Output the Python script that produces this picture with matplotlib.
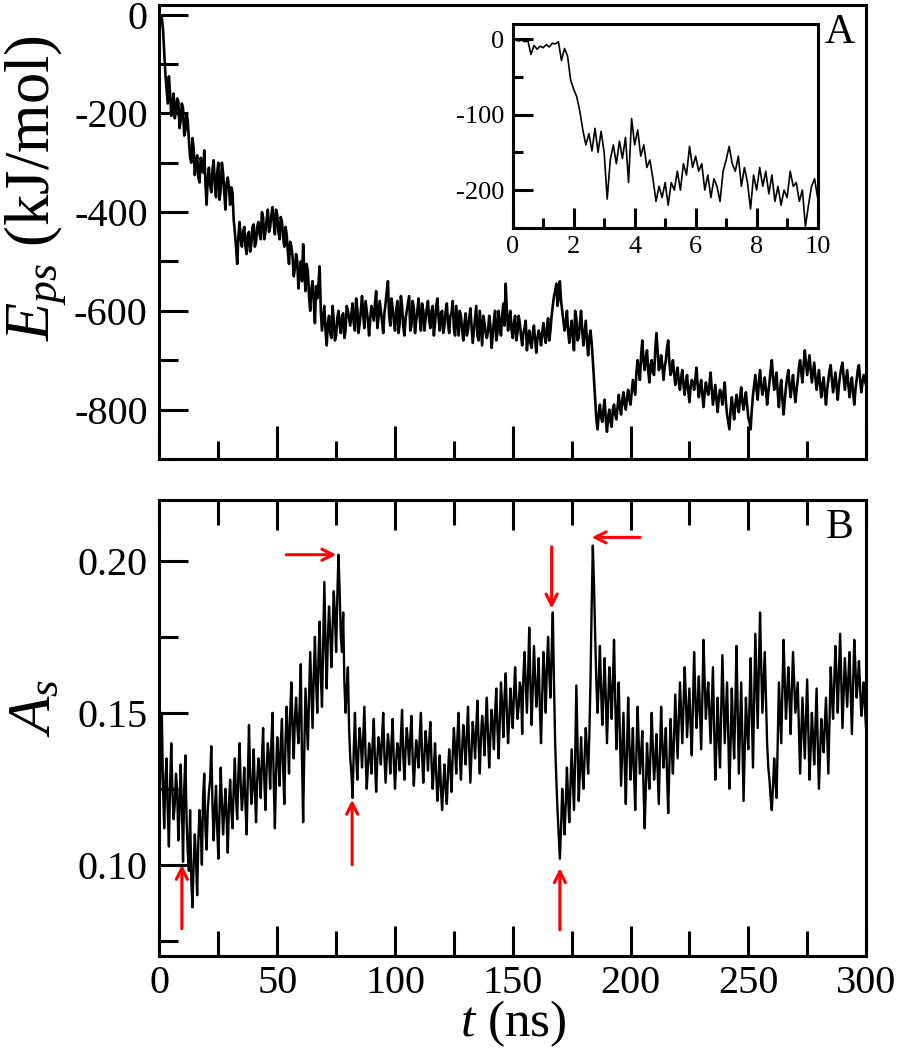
import numpy as np
import matplotlib
matplotlib.use("Agg")
import matplotlib.pyplot as plt
from matplotlib.ticker import MultipleLocator

plt.rcParams['font.family'] = ['Liberation Serif', 'DejaVu Serif']
plt.rcParams['mathtext.fontset'] = 'custom'
plt.rcParams['mathtext.rm'] = 'Liberation Serif'
plt.rcParams['mathtext.it'] = 'Liberation Serif:italic'

# protein-surface energy (kJ/mol): whole ns and half ns
eps = [
    0, -8, -75, -150, -125, -205, -160, -195, -175, -215,
    -190, -235, -215, -290, -250, -325, -285, -340, -300, -275,
    -385, -310, -360, -295, -370, -300, -355, -320, -395, -330,
    -385, -360, -440, -505, -420, -470, -430, -485, -440, -465,
    -425, -460, -420, -455, -410, -440, -395, -430, -390, -445,
    -405, -455, -420, -470, -445, -505, -470, -530, -485, -555,
    -500, -465, -560, -520, -600, -540, -625, -575, -510, -640,
    -590, -670, -610, -655, -620, -650, -600, -645, -605, -640,
    -600, -630, -585, -640, -595, -625, -570, -635, -600, -650,
    -590, -620, -560, -615, -600, -645, -585, -540, -630, -595,
    -640, -580, -625, -590, -650, -600, -570, -630, -595, -620,
    -575, -640, -600, -615, -580, -635, -590, -625, -575, -640,
    -600, -630, -585, -645, -605, -635, -590, -650, -610, -660,
    -605, -640, -595, -665, -615, -650, -600, -670, -625, -655,
    -610, -675, -620, -660, -600, -650, -585, -545, -640, -600,
    -655, -610, -645, -625, -670, -635, -680, -640, -675, -630,
    -685, -640, -670, -625, -665, -615, -640, -590, -560, -590,
    -540, -600, -640, -600, -665, -620, -680, -615, -655, -600,
    -670, -620, -690, -640, -700, -780, -840, -790, -825, -780,
    -845, -800, -835, -790, -820, -770, -810, -765, -800, -760,
    -790, -740, -770, -700, -740, -660, -720, -680, -745, -700,
    -730, -645, -720, -690, -740, -700, -660, -730, -700, -750,
    -715, -760, -720, -770, -730, -785, -740, -760, -715, -775,
    -740, -795, -745, -770, -725, -790, -750, -805, -760, -790,
    -745, -810, -840, -775, -820, -770, -805, -755, -800, -765,
    -815, -840, -770, -730, -780, -720, -770, -735, -790, -745,
    -700, -760, -725, -795, -740, -810, -755, -720, -775, -730,
    -785, -740, -700, -745, -680, -730, -690, -745, -705, -760,
    -720, -775, -735, -790, -740, -710, -765, -725, -780, -730,
    -705, -760, -720, -775, -735, -790, -740, -710, -765, -730,
    -750,
]
eps_half = [
    -3, -30, -120, -180, -160, -180, -210, -170, -230, -180,
    -245, -200, -255, -300, -270, -300, -330, -290, -320, -340,
    -330, -345, -315, -345, -320, -375, -300, -360, -340, -350,
    -350, -415, -470, -450, -455, -440, -470, -445, -480, -430,
    -470, -430, -445, -400, -455, -415, -440, -405, -420, -395,
    -440, -410, -450, -430, -480, -460, -490, -515, -500, -520,
    -540, -520, -505, -570, -555, -580, -550, -545, -600, -615,
    -640, -625, -645, -590, -660, -615, -630, -610, -655, -590,
    -615, -605, -625, -575, -645, -600, -610, -580, -620, -615,
    -605, -585, -635, -580, -620, -605, -560, -610, -575, -620,
    -600, -645, -570, -630, -615, -585, -640, -580, -645, -600,
    -615, -585, -640, -595, -620, -600, -650, -590, -615, -605,
    -645, -600, -625, -610, -580, -650, -620, -600, -640, -625,
    -650, -615, -630, -640, -590, -660, -635, -610, -645, -640,
    -630, -650, -600, -645, -630, -610, -630, -600, -615, -640,
    -625, -660, -610, -650, -645, -620, -655, -665, -645, -660,
    -655, -650, -645, -650, -635, -660, -610, -570, -545, -570,
    -580, -620, -625, -640, -640, -655, -600, -660, -625, -640,
    -645, -660, -655, -665, -740, -820, -810, -815, -800, -820,
    -815, -825, -800, -810, -795, -795, -780, -790, -775, -780,
    -765, -755, -725, -725, -690, -700, -695, -720, -710, -725,
    -680, -680, -715, -710, -715, -675, -705, -720, -725, -730,
    -745, -735, -750, -745, -760, -755, -745, -740, -750, -755,
    -770, -765, -760, -750, -760, -770, -780, -775, -770, -765,
    -785, -825, -800, -800, -790, -790, -775, -785, -780, -790,
    -825, -800, -750, -760, -745, -750, -755, -760, -765, -720,
    -735, -740, -765, -760, -780, -780, -735, -750, -750, -760,
    -760, -715, -725, -710, -705, -710, -720, -725, -735, -740,
    -750, -750, -765, -760, -720, -740, -745, -755, -750, -715,
    -735, -740, -750, -750, -765, -760, -720, -740, -745, -740,
]

# first 10 ns, every 0.1 ns (inset)
t_inset = np.arange(0, 101) / 10
eps_inset = [
    0, -1, -2, -1, -3, -2, -20, -8, -13, -9,
    -11, -7, -10, -5, -6, -3, -28, -12, -22, -54,
    -66, -76, -95, -120, -140, -125, -148, -118, -150, -122,
    -150, -212, -160, -140, -165, -135, -158, -130, -190, -105,
    -140, -120, -155, -140, -170, -160, -185, -215, -195, -210,
    -190, -220, -190, -200, -175, -200, -165, -180, -142, -170,
    -155, -175, -165, -200, -180, -210, -185, -195, -215, -175,
    -160, -142, -165, -175, -155, -195, -170, -190, -225, -180,
    -200, -170, -195, -175, -205, -180, -215, -195, -220, -200,
    -210, -175, -195, -190, -215, -200, -248, -220, -195, -185,
    -210,
]

# asphericity A_s: whole ns and half ns
asph = [
    0.120, 0.150, 0.112, 0.135, 0.106, 0.140, 0.115, 0.130, 0.108, 0.133,
    0.101, 0.136, 0.104, 0.118, 0.086, 0.110, 0.090, 0.118, 0.100, 0.130,
    0.105, 0.124, 0.139, 0.108, 0.126, 0.102, 0.132, 0.110, 0.125, 0.104,
    0.128, 0.112, 0.135, 0.115, 0.140, 0.118, 0.132, 0.110, 0.146, 0.120,
    0.138, 0.114, 0.135, 0.122, 0.145, 0.118, 0.140, 0.125, 0.150, 0.112,
    0.142, 0.126, 0.148, 0.120, 0.152, 0.130, 0.160, 0.135, 0.155, 0.140,
    0.166, 0.114, 0.158, 0.138, 0.170, 0.145, 0.175, 0.150, 0.180, 0.152,
    0.193, 0.158, 0.185, 0.165, 0.190, 0.170, 0.202, 0.175, 0.183, 0.150,
    0.165, 0.135, 0.122, 0.150, 0.128, 0.145, 0.132, 0.152, 0.125, 0.140,
    0.130, 0.148, 0.124, 0.142, 0.133, 0.150, 0.127, 0.143, 0.130, 0.148,
    0.125, 0.140, 0.131, 0.151, 0.128, 0.145, 0.133, 0.149, 0.126, 0.141,
    0.132, 0.150, 0.127, 0.144, 0.131, 0.147, 0.125, 0.140, 0.121, 0.136,
    0.118, 0.133, 0.120, 0.138, 0.124, 0.145, 0.130, 0.150, 0.128, 0.146,
    0.133, 0.152, 0.127, 0.147, 0.135, 0.154, 0.130, 0.149, 0.136, 0.155,
    0.132, 0.151, 0.138, 0.158, 0.135, 0.160, 0.142, 0.163, 0.140, 0.158,
    0.145, 0.165, 0.148, 0.160, 0.143, 0.170, 0.150, 0.178, 0.146, 0.172,
    0.152, 0.168, 0.140, 0.170, 0.150, 0.175, 0.155, 0.183, 0.140, 0.118,
    0.102, 0.125, 0.110, 0.132, 0.114, 0.138, 0.118, 0.159, 0.121, 0.142,
    0.125, 0.145, 0.130, 0.160, 0.205, 0.175, 0.150, 0.172, 0.146, 0.168,
    0.140, 0.165, 0.148, 0.174, 0.138, 0.160, 0.126, 0.150, 0.120, 0.155,
    0.128, 0.145, 0.118, 0.152, 0.130, 0.144, 0.112, 0.140, 0.125, 0.150,
    0.128, 0.143, 0.120, 0.152, 0.132, 0.145, 0.117, 0.148, 0.130, 0.156,
    0.135, 0.160, 0.140, 0.165, 0.142, 0.158, 0.136, 0.170, 0.145, 0.162,
    0.138, 0.174, 0.148, 0.160, 0.140, 0.165, 0.128, 0.155, 0.132, 0.169,
    0.140, 0.160, 0.125, 0.158, 0.135, 0.172, 0.130, 0.160, 0.121, 0.155,
    0.138, 0.168, 0.132, 0.176, 0.145, 0.183, 0.150, 0.170, 0.140, 0.128,
    0.118, 0.135, 0.122, 0.160, 0.140, 0.174, 0.148, 0.165, 0.143, 0.170,
    0.150, 0.160, 0.130, 0.155, 0.135, 0.161, 0.128, 0.150, 0.133, 0.158,
    0.125, 0.148, 0.137, 0.155, 0.130, 0.165, 0.148, 0.172, 0.150, 0.176,
    0.145, 0.168, 0.152, 0.170, 0.143, 0.174, 0.155, 0.167, 0.149, 0.160,
    0.145,
]
asph_half = [
    0.135, 0.125, 0.128, 0.118, 0.126, 0.124, 0.120, 0.125, 0.118, 0.120,
    0.125, 0.115, 0.098, 0.095, 0.100, 0.102, 0.108, 0.112, 0.122, 0.112,
    0.118, 0.128, 0.120, 0.118, 0.112, 0.118, 0.120, 0.118, 0.115, 0.120,
    0.118, 0.125, 0.122, 0.130, 0.126, 0.124, 0.120, 0.128, 0.130, 0.125,
    0.125, 0.128, 0.130, 0.135, 0.128, 0.132, 0.135, 0.140, 0.128, 0.130,
    0.135, 0.140, 0.132, 0.140, 0.142, 0.150, 0.145, 0.148, 0.146, 0.152,
    0.135, 0.138, 0.148, 0.155, 0.158, 0.162, 0.160, 0.168, 0.162, 0.172,
    0.172, 0.175, 0.176, 0.178, 0.182, 0.188, 0.190, 0.170, 0.160, 0.158,
    0.145, 0.130, 0.138, 0.136, 0.138, 0.140, 0.142, 0.136, 0.132, 0.137,
    0.140, 0.134, 0.135, 0.138, 0.142, 0.136, 0.135, 0.138, 0.140, 0.134,
    0.134, 0.138, 0.142, 0.136, 0.138, 0.140, 0.142, 0.135, 0.134, 0.137,
    0.142, 0.136, 0.136, 0.139, 0.140, 0.134, 0.132, 0.130, 0.128, 0.125,
    0.126, 0.125, 0.130, 0.132, 0.136, 0.138, 0.142, 0.136, 0.138, 0.140,
    0.143, 0.138, 0.137, 0.142, 0.145, 0.140, 0.142, 0.144, 0.147, 0.142,
    0.142, 0.146, 0.150, 0.145, 0.148, 0.152, 0.155, 0.150, 0.148, 0.152,
    0.156, 0.155, 0.152, 0.158, 0.162, 0.160, 0.162, 0.160, 0.158, 0.162,
    0.158, 0.152, 0.155, 0.162, 0.165, 0.163, 0.170, 0.160, 0.128, 0.110,
    0.112, 0.118, 0.120, 0.122, 0.126, 0.128, 0.135, 0.140, 0.130, 0.132,
    0.135, 0.138, 0.142, 0.185, 0.192, 0.160, 0.160, 0.158, 0.156, 0.155,
    0.152, 0.158, 0.160, 0.155, 0.150, 0.142, 0.138, 0.134, 0.138, 0.140,
    0.135, 0.130, 0.136, 0.140, 0.136, 0.126, 0.125, 0.132, 0.138, 0.138,
    0.134, 0.132, 0.136, 0.140, 0.138, 0.130, 0.132, 0.138, 0.142, 0.145,
    0.148, 0.150, 0.152, 0.155, 0.150, 0.146, 0.152, 0.156, 0.152, 0.150,
    0.155, 0.160, 0.155, 0.150, 0.152, 0.145, 0.140, 0.142, 0.150, 0.154,
    0.150, 0.142, 0.140, 0.145, 0.152, 0.150, 0.145, 0.140, 0.138, 0.145,
    0.152, 0.150, 0.155, 0.160, 0.165, 0.165, 0.160, 0.155, 0.132, 0.122,
    0.126, 0.128, 0.140, 0.150, 0.158, 0.160, 0.156, 0.155, 0.158, 0.160,
    0.155, 0.145, 0.142, 0.145, 0.148, 0.145, 0.138, 0.142, 0.145, 0.140,
    0.136, 0.142, 0.146, 0.142, 0.148, 0.156, 0.160, 0.162, 0.163, 0.160,
    0.156, 0.160, 0.162, 0.157, 0.158, 0.165, 0.160, 0.158, 0.154, 0.152,
]

# red arrows in panel B: tail -> tip
arrow_tail_t = [9.5, 53.8, 81.8, 166.5, 204.0, 170.0]
arrow_tail_a = [0.079, 0.202, 0.100, 0.2046, 0.2077, 0.0786]
arrow_tip_t = [9.5, 75.1, 81.8, 166.5, 183.5, 170.0]
arrow_tip_a = [0.100, 0.202, 0.1214, 0.1843, 0.2077, 0.0989]

# merge whole-ns and half-ns readings into one time series
t_ns = np.arange(0, 601) / 2
eps_all = []
asph_all = []
for i in range(300):
    eps_all += [eps[i], eps_half[i]]
    asph_all += [asph[i], asph_half[i]]
eps_all.append(eps[300])
asph_all.append(asph[300])

TICK_FS = 29
SPINE_W = 2.2

fig = plt.figure(figsize=(8.98, 10.5), dpi=100)
ax1 = fig.add_axes([0.1776, 0.5629, 0.7868, 0.4326])
ax2 = fig.add_axes([0.1776, 0.0895, 0.7868, 0.4343])
axin = fig.add_axes([0.5709, 0.7831, 0.3396, 0.1937])

# panel A
ax1.plot(t_ns, eps_all, color="black", lw=1.9)
ax1.set_xlim(0, 300)
ax1.set_ylim(-900, 20)
ax1.xaxis.set_major_locator(MultipleLocator(50))
ax1.xaxis.set_minor_locator(MultipleLocator(25))
ax1.yaxis.set_major_locator(MultipleLocator(200))
ax1.yaxis.set_minor_locator(MultipleLocator(100))
ax1.tick_params(axis="y", which="major", direction="in", length=21, width=SPINE_W,
                labelsize=TICK_FS, pad=8.5, right=False)
ax1.tick_params(axis="y", which="minor", direction="in", length=13.7, width=SPINE_W, right=False)
ax1.tick_params(axis="x", which="major", direction="in", length=24, width=SPINE_W,
                top=False, labelbottom=False)
ax1.tick_params(axis="x", which="minor", direction="in", length=13, width=SPINE_W, top=False)
ax1.set_yticks([0, -200, -400, -600, -800])
ax1.set_yticklabels(["0", "-200", "-400", "-600", "-800"])
ax1.text(0.963, 0.938, "A", transform=ax1.transAxes, fontsize=30, ha="center", va="center")

# inset
axin.plot(t_inset, eps_inset, color="black", lw=1.2)
axin.set_xlim(0, 10)
axin.set_ylim(-250, 20)
axin.xaxis.set_major_locator(MultipleLocator(2))
axin.xaxis.set_minor_locator(MultipleLocator(1))
axin.set_yticks([0, -100, -200])
axin.set_yticklabels(["0", "-100", "-200"])
axin.yaxis.set_minor_locator(MultipleLocator(50))
axin.tick_params(axis="both", which="major", direction="in", length=14.4, width=SPINE_W,
                 labelsize=19, pad=6, top=False, right=False)
axin.tick_params(axis="both", which="minor", direction="in", length=7.2, width=SPINE_W,
                 top=False, right=False)

# panel B
ax2.plot(t_ns, asph_all, color="black", lw=1.7)
ax2.set_xlim(0, 300)
ax2.set_ylim(0.07, 0.22)
ax2.xaxis.set_major_locator(MultipleLocator(50))
ax2.xaxis.set_minor_locator(MultipleLocator(25))
ax2.set_yticks([0.10, 0.15, 0.20])
ax2.set_yticklabels(["0.10", "0.15", "0.20"])
ax2.yaxis.set_minor_locator(MultipleLocator(0.025))
ax2.tick_params(axis="x", which="major", direction="in", length=21.6, width=SPINE_W,
                labelsize=TICK_FS, pad=6.5, top=True, right=False)
ax2.tick_params(axis="x", which="minor", direction="in", length=18, width=SPINE_W, top=True)
ax2.tick_params(axis="y", which="major", direction="in", length=21, width=SPINE_W,
                labelsize=TICK_FS, pad=8.5, right=False)
ax2.tick_params(axis="y", which="minor", direction="in", length=13.7, width=SPINE_W, right=False)
ax2.text(0.963, 0.939, "B", transform=ax2.transAxes, fontsize=30, ha="center", va="center")

for i in range(len(arrow_tip_t)):
    ax2.annotate("", xy=(arrow_tip_t[i], arrow_tip_a[i]),
                 xytext=(arrow_tail_t[i], arrow_tail_a[i]),
                 arrowprops=dict(arrowstyle="->", color="red", lw=2.2,
                                 shrinkA=0, shrinkB=0, mutation_scale=20))

for ax in (ax1, ax2, axin):
    for s in ax.spines.values():
        s.set_linewidth(SPINE_W)

fig.text(35 / 898, 1 - 188 / 1050, r"$E_{ps}$ (kJ/mol)", rotation=90,
         fontsize=45, ha="center", va="center")
fig.text(35 / 898, 1 - 708 / 1050, r"$A_s$", rotation=90,
         fontsize=44, ha="center", va="center")
fig.text(513 / 898, 1 - 1024 / 1050, r"$t$ (ns)", fontsize=37,
         ha="center", va="center")

fig.savefig("out.png", dpi=100)
